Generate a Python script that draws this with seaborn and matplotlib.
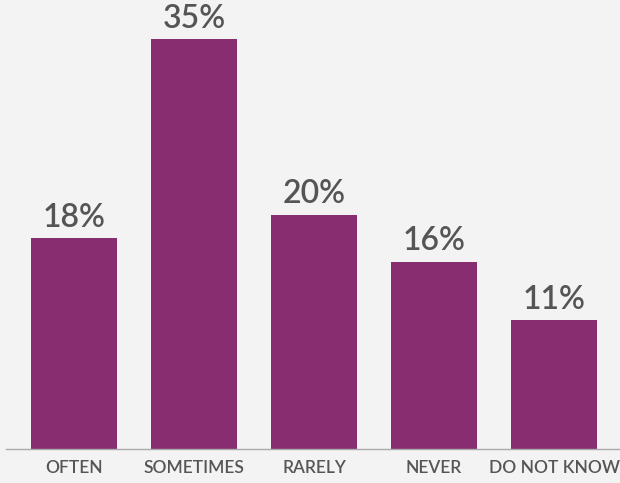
import matplotlib
matplotlib.use("Agg")
import matplotlib.pyplot as plt
import seaborn as sns
import pandas as pd

categories = ["OFTEN", "SOMETIMES", "RARELY", "NEVER", "DO NOT KNOW"]
values = [18, 35, 20, 16, 11]

df = pd.DataFrame({"category": categories, "value": values})

sns.set_theme(style="white")
plt.rcParams['font.family'] = ['Lato', 'DejaVu Sans']

bg = "#F3F3F3"
fig = plt.figure(figsize=(6.2, 4.83), dpi=100, facecolor=bg)
ax = fig.add_axes([6/620, 34/483, 614/620, 449/483])
ax.set_facecolor(bg)

sns.barplot(data=df, x="category", y="value", color="#872D70", saturation=1,
            width=0.717, linewidth=0, ax=ax)

for c in ax.containers:
    ax.bar_label(c, labels=[f"{v}%" for v in values], padding=4,
                 fontsize=23, fontweight="semibold", color="#555555")

ax.set_xlim(-0.567, 4.55)
ax.set_ylim(0, 449/11.71)
ax.set_xlabel("")
ax.set_ylabel("")
ax.set_yticks([])
ax.tick_params(axis="x", length=0, pad=8, labelsize=12.5, labelcolor="#555555")
for lab in ax.get_xticklabels():
    lab.set_fontweight("semibold")
for s in ["top", "right", "left"]:
    ax.spines[s].set_visible(False)
ax.spines["bottom"].set_color("#AAAAAA")
ax.spines["bottom"].set_linewidth(1)

fig.savefig("out.png", dpi=100, facecolor=bg)
